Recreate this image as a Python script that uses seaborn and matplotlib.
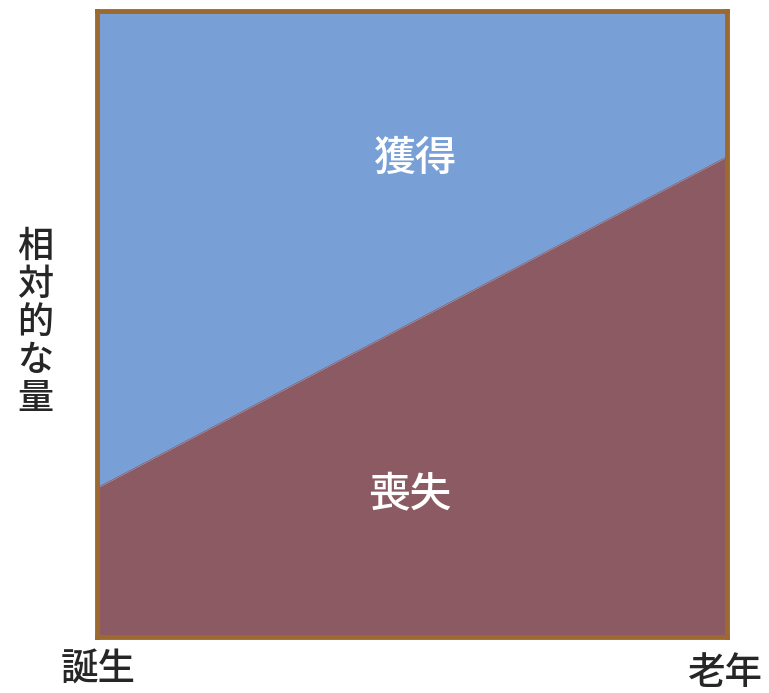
import matplotlib
matplotlib.use("Agg")
import matplotlib.pyplot as plt
import seaborn as sns
import pandas as pd

# データ
edad = [0, 1]
limite = [0.238, 0.767]  # límite entre pérdida y ganancia
etiquetas_x = ["誕生", "老年"]
etiqueta_y = "相対的な量"
zona_arriba = "獲得"
zona_abajo = "喪失"

sns.set_style("white")
plt.rcParams["font.family"] = ["Noto Sans CJK JP", "DejaVu Sans"]

df = pd.DataFrame({"edad": edad, "limite": limite})

fig = plt.figure(figsize=(7.69, 6.93), dpi=100)
ax = fig.add_axes([0.126, 0.081, 0.819, 0.903])

azul = "#789FD6"
granate = "#8B5A62"
borde = "#9C6A30"

ax.fill_between(df["edad"], df["limite"], 1, color=azul, linewidth=0)
ax.fill_between(df["edad"], 0, df["limite"], color=granate, linewidth=0)
sns.lineplot(data=df, x="edad", y="limite", ax=ax, color=granate, linewidth=0.5)

ax.set_xlim(0, 1)
ax.set_ylim(0, 1)
ax.set_xticks([])
ax.set_yticks([])
ax.set_xlabel("")
ax.set_ylabel("")
for s in ax.spines.values():
    s.set_color(borde)
    s.set_linewidth(3.5)
    s.set_visible(True)

ax.text(0.505, 0.764, zona_arriba, color="white", fontsize=30, weight="medium",
        ha="center", va="center", transform=ax.transAxes)
ax.text(0.497, 0.229, zona_abajo, color="white", fontsize=30, weight="medium",
        ha="center", va="center", transform=ax.transAxes)

fig.text(35 / 769, 1 - 323 / 693, "\n".join(etiqueta_y), fontsize=26,
         weight="medium", ha="center", va="center", linespacing=1.08)
fig.text(98 / 769, 1 - 670 / 693, etiquetas_x[0], fontsize=27,
         weight="medium", ha="center", va="center")
fig.text(725 / 769, 1 - 673 / 693, etiquetas_x[1], fontsize=27,
         weight="medium", ha="center", va="center")

fig.savefig("out.png", dpi=100)
plt.close(fig)
